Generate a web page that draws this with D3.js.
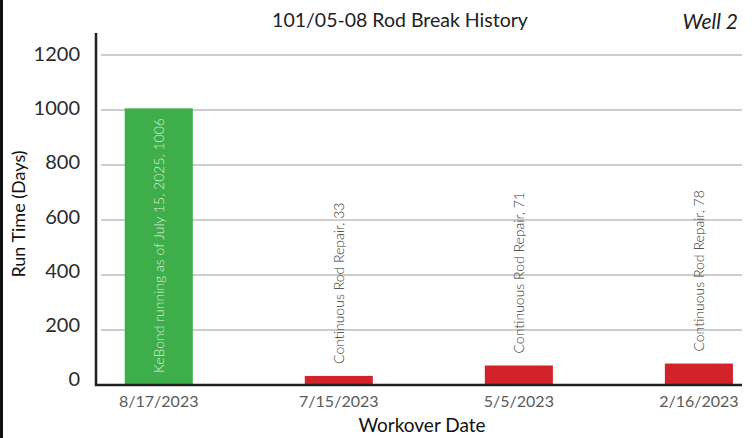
<!DOCTYPE html>
<html lang="en">
<head>
  <meta charset="utf-8">
  <title>Rod Break History</title>
  <script src="https://d3js.org/d3.v7.min.js"></script>
  <style>
    body { margin: 0; background: #fff; }
    text { font-family: Lato, "Open Sans", sans-serif; }
  </style>
</head>
<body>
<script>
  // chart data
  var dates = ['8/17/2023', '7/15/2023', '5/5/2023', '2/16/2023']
  var runDays = [1006, 33, 71, 78]
  var labels = ['KeBond running as of July 15, 2025', 'Continuous Rod Repair',
                'Continuous Rod Repair', 'Continuous Rod Repair']
  var barColors = ['#3dae49', '#d2232a', '#d2232a', '#d2232a']
  var yTicks = [0, 200, 400, 600, 800, 1000, 1200]

  var W = 756, H = 438
  // note: "top" is a reserved window prop, so use plot* names
  var plotLeft = 96, plotRight = 742, plotTop = 55, plotBottom = 385

  var svg = d3.select('body').append('svg')
    .attr('width', W)
    .attr('height', H)

  var x = d3.scaleBand()
    .domain(dates)
    .range([plotLeft, plotRight])
    .paddingInner(0.622)
    .paddingOuter(0.105)
    .align(0.76)

  var y = d3.scaleLinear()
    .domain([0, 1200])
    .range([plotBottom, plotTop])

  // left border line
  svg.append('rect')
    .attr('x', 0).attr('y', 0)
    .attr('width', 3).attr('height', H)
    .attr('fill', '#111')

  // gridlines
  svg.append('g')
    .selectAll('line')
    .data(yTicks.filter(function (d) { return d > 0 }))
    .enter().append('line')
    .attr('x1', plotLeft + 5).attr('x2', plotRight)
    .attr('y1', function (d) { return y(d) })
    .attr('y2', function (d) { return y(d) })
    .attr('stroke', '#bdbdbd')
    .attr('stroke-width', 1.3)

  // y tick labels (sit a touch above their gridline, more so near the bottom)
  svg.append('g')
    .selectAll('text')
    .data(yTicks)
    .enter().append('text')
    .attr('x', 80)
    .attr('y', function (d) { return y(d) - 1 - (1200 - d) / 1200 * 5 })
    .attr('dy', '0.35em')
    .attr('text-anchor', 'end')
    .attr('font-size', 20)
    .attr('fill', '#2b2b2b')
    .text(function (d) { return d })

  // bars
  svg.append('g')
    .selectAll('rect')
    .data(runDays)
    .enter().append('rect')
    .attr('x', function (d, i) { return x(dates[i]) })
    .attr('width', x.bandwidth())
    .attr('y', function (d) { return y(d) })
    .attr('height', function (d) { return y(0) - y(d) })
    .attr('fill', function (d, i) { return barColors[i] })

  // bar labels (first one sits inside the bar)
  svg.append('g')
    .selectAll('text')
    .data(runDays)
    .enter().append('text')
    .attr('transform', function (d, i) {
      var cx = x(dates[i]) + x.bandwidth() / 2
      var ty = i === 0 ? y(0) - 12 : y(d) - 12
      return 'translate(' + cx + ',' + ty + ') rotate(-90)'
    })
    .attr('dy', '0.35em')
    .attr('font-size', 14)
    .attr('font-weight', 300)
    .attr('fill', function (d, i) { return i === 0 ? '#dcefdc' : '#333' })
    .text(function (d, i) { return labels[i] + ', ' + d })

  // axes lines
  svg.append('line')
    .attr('x1', plotLeft).attr('x2', plotLeft)
    .attr('y1', 33).attr('y2', plotBottom + 1)
    .attr('stroke', '#231f20').attr('stroke-width', 2.5)
  svg.append('line')
    .attr('x1', plotLeft - 1).attr('x2', plotRight)
    .attr('y1', plotBottom).attr('y2', plotBottom)
    .attr('stroke', '#231f20').attr('stroke-width', 2.5)

  // x tick labels
  svg.append('g')
    .selectAll('text')
    .data(dates)
    .enter().append('text')
    .attr('x', function (d) { return x(d) + x.bandwidth() / 2 })
    .attr('y', 401)
    .attr('dy', '0.35em')
    .attr('text-anchor', 'middle')
    .attr('font-size', 16)
    .attr('fill', '#5a5a5a')
    .text(function (d) { return d })

  // titles
  svg.append('text')
    .attr('x', 400).attr('y', 27)
    .attr('text-anchor', 'middle')
    .attr('font-size', 19.5)
    .attr('fill', '#222')
    .text('101/05-08 Rod Break History')

  svg.append('text')
    .attr('x', 738).attr('y', 29)
    .attr('text-anchor', 'end')
    .attr('font-size', 21)
    .attr('font-style', 'italic')
    .attr('fill', '#222')
    .text('Well 2')

  svg.append('text')
    .attr('x', 422).attr('y', 432)
    .attr('text-anchor', 'middle')
    .attr('font-size', 19)
    .attr('fill', '#111')
    .text('Workover Date')

  svg.append('text')
    .attr('transform', 'translate(25,214) rotate(-90)')
    .attr('text-anchor', 'middle')
    .attr('font-size', 18)
    .attr('fill', '#111')
    .text('Run Time (Days)')
</script>
</body>
</html>
